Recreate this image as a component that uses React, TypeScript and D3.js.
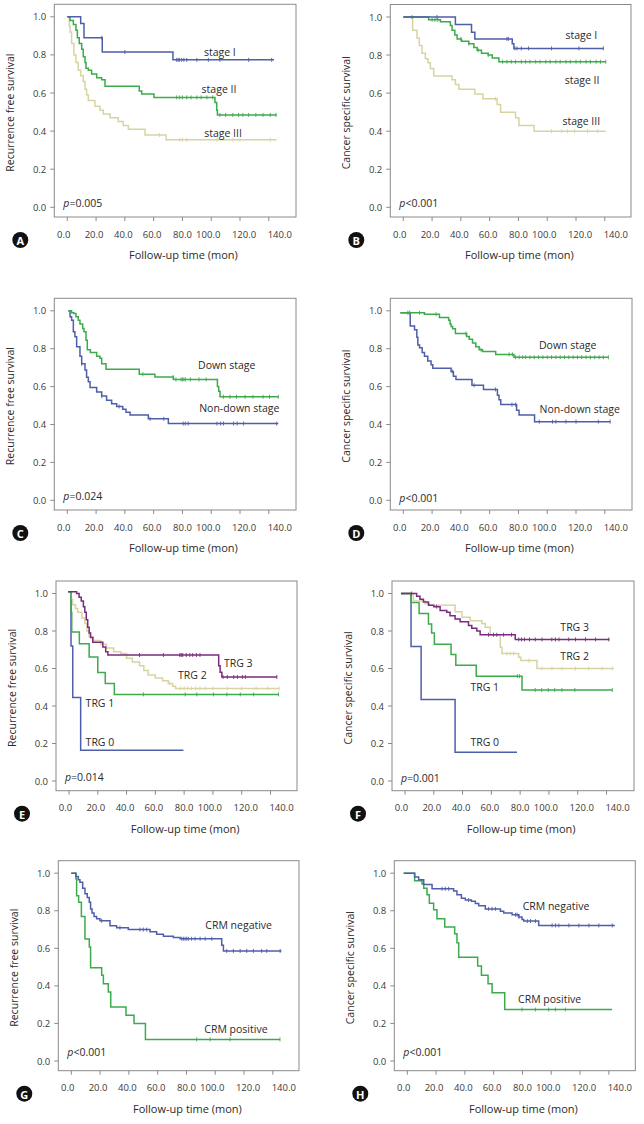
import React from "react";
import * as d3 from "d3";

type Pt = [number, number];

// ---------------- axis data ----------------
const xTickValues = [0, 20, 40, 60, 80, 100, 120, 140];
const xTickLabels = ["0.0", "20.0", "40.0", "60.0", "80.0", "100.0", "120.0", "140.0"];
const yTickValues = [0, 0.2, 0.4, 0.6, 0.8, 1.0];
const yTickLabels = ["0.0", "0.2", "0.4", "0.6", "0.8", "1.0"];
const xAxisTitle = "Follow-up time (mon)";
const rfsTitle = "Recurrence free survival";
const cssTitle = "Cancer specific survival";

// ---------------- Panel A ----------------
const A_stage1_steps: Pt[] = [[0, 1], [9.3, 0.965], [11.6, 0.89], [24.3, 0.815], [73.4, 0.774]];
const A_stage1_end = 143.6;
const A_stage1_censor = [24, 40, 76, 77, 78, 79.5, 81, 83, 90, 98, 106, 126, 142];
const A_stage2_steps: Pt[] = [[0, 1], [1.9, 0.98], [4.2, 0.96], [6, 0.93], [7, 0.89], [8.3, 0.86], [10, 0.83], [11.1, 0.79], [12.3, 0.76], [13, 0.73], [14.6, 0.72], [16.9, 0.7], [20.4, 0.68], [23.9, 0.67], [26.2, 0.635], [50, 0.61], [51.7, 0.595], [60.2, 0.577], [102.6, 0.55], [103.8, 0.51], [104.3, 0.485]];
const A_stage2_end = 145.5;
const A_stage2_censor = [76, 78, 80, 83, 86, 90, 93, 97, 101, 106, 110, 115, 119, 122, 126, 131, 136, 141, 145];
const A_stage3_steps: Pt[] = [[0, 1], [1.4, 0.95], [1.9, 0.92], [3, 0.86], [4.6, 0.8], [6, 0.76], [7.6, 0.72], [9.3, 0.69], [11.1, 0.66], [12.3, 0.62], [13.4, 0.59], [14.6, 0.56], [19.2, 0.53], [22.7, 0.51], [25, 0.49], [29.7, 0.47], [35.4, 0.45], [38.9, 0.43], [42.4, 0.41], [54, 0.38], [68.6, 0.355]];
const A_stage3_end = 145.5;
const A_stage3_censor = [64, 78, 80, 83, 104, 115, 120, 141];

// ---------------- Panel B ----------------
const B_stage1_steps: Pt[] = [[0, 1], [36.2, 0.96], [47.4, 0.92], [49.7, 0.885], [75.7, 0.86], [76.8, 0.835]];
const B_stage1_end = 139;
const B_stage1_censor = [23.4, 72, 73, 77.5, 79, 82, 87, 103, 122, 139];
const B_stage2_steps: Pt[] = [[0, 1], [17.6, 0.985], [25.8, 0.975], [32.7, 0.955], [33.9, 0.93], [35.8, 0.905], [37.4, 0.885], [40.4, 0.873], [45.5, 0.86], [49, 0.84], [51.3, 0.825], [54.3, 0.81], [59, 0.8], [61.8, 0.785], [66.4, 0.765]];
const B_stage2_end = 140.7;
const B_stage2_censor = [6, 20, 22, 24, 40, 45.5, 52, 59, 69, 72, 75, 78, 82, 85, 88, 92, 95, 99, 102, 106, 109, 113, 116, 120, 123, 127, 130, 134, 137, 140.7];
const B_stage3_steps: Pt[] = [[0, 1], [6.5, 0.93], [9.5, 0.89], [11.1, 0.85], [13, 0.81], [15.3, 0.78], [17.2, 0.76], [18.8, 0.73], [21.1, 0.69], [33.9, 0.67], [36.2, 0.645], [38.6, 0.62], [49.7, 0.595], [55.3, 0.57], [65.2, 0.54], [67.6, 0.5], [78, 0.47], [80.3, 0.43], [90.8, 0.4]];
const B_stage3_end = 140.7;
const B_stage3_censor = [64, 103, 110, 114, 119, 128, 135];

// ---------------- Panel C ----------------
const C_down_steps: Pt[] = [[0.7, 1], [3, 0.99], [4.6, 0.986], [6, 0.968], [7.6, 0.95], [8.8, 0.93], [10.7, 0.907], [11.6, 0.89], [13, 0.845], [13.9, 0.795], [16, 0.78], [20.4, 0.76], [22.7, 0.75], [23.9, 0.72], [26.9, 0.692], [50, 0.665], [60.9, 0.651], [73.7, 0.638], [104.3, 0.6], [105.2, 0.575], [106.1, 0.546]];
const C_down_end = 146.6;
const C_down_censor = [52.5, 73.5, 75.5, 79, 80, 81, 82, 85.5, 91.5, 96.5, 108.5, 113, 117.5, 123.5, 129, 136, 140.5, 146.6];
const C_non_steps: Pt[] = [[0.7, 1], [1.9, 0.968], [3, 0.95], [4.2, 0.89], [5.3, 0.863], [6.5, 0.81], [8.8, 0.76], [10, 0.72], [12.3, 0.687], [13.4, 0.65], [14.6, 0.625], [15.8, 0.595], [20.4, 0.572], [23.9, 0.55], [27.3, 0.528], [30.8, 0.51], [34.3, 0.495], [38.5, 0.48], [40.8, 0.465], [43.6, 0.45], [56.3, 0.43], [70.2, 0.405]];
const C_non_end = 146.6;
const C_non_censor = [10, 23.9, 36, 57.5, 67, 80.5, 82, 84, 104, 106.5, 108.5, 115.5, 118, 122.5, 145.5];

// ---------------- Panel D ----------------
const D_down_steps: Pt[] = [[-2, 0.99], [14.7, 0.982], [25.1, 0.965], [31.5, 0.95], [32.5, 0.93], [33.2, 0.917], [34.3, 0.905], [36.2, 0.88], [44, 0.865], [45.8, 0.85], [48.1, 0.83], [50.4, 0.81], [52.7, 0.795], [55, 0.785], [64.2, 0.77], [76.9, 0.755]];
const D_down_end = 142.5;
const D_down_censor = [4.4, 11.3, 22.8, 43.5, 54, 73.5, 75.8, 78, 80.5, 83, 85, 88, 91, 94, 97, 100, 103, 106, 109, 112, 115, 118, 121, 124, 127, 130, 133, 136, 139, 142.5];
const D_non_steps: Pt[] = [[-2, 0.99], [4.8, 0.92], [7.8, 0.9], [9.4, 0.86], [10.1, 0.82], [11.3, 0.805], [13.1, 0.78], [14.7, 0.76], [17, 0.735], [19.3, 0.715], [20.5, 0.697], [33.2, 0.68], [34.8, 0.655], [36.6, 0.637], [47.7, 0.607], [55.7, 0.585], [65.4, 0.555], [66.5, 0.53], [67.7, 0.505], [78.7, 0.475], [80.4, 0.45], [91.2, 0.415]];
const D_non_end = 143.7;
const D_non_censor = [3.2, 34, 49.2, 64, 75.5, 78, 94.5, 103.7, 106, 113, 120, 135.5, 143.7];

// ---------------- Panel E ----------------
const E_trg0_steps: Pt[] = [[-0.5, 1.01], [1.4, 0.72], [2.6, 0.445], [8.1, 0.164]];
const E_trg0_end = 79.5;
const E_trg0_censor: number[] = [];
const E_trg1_steps: Pt[] = [[-0.5, 1.01], [1.4, 0.9], [1.9, 0.795], [7.2, 0.732], [14, 0.661], [20, 0.579], [25.2, 0.52], [31.5, 0.462]];
const E_trg1_end = 145.6;
const E_trg1_censor = [51.7, 80.7, 88.8, 100.4, 109.7, 119, 128.3, 145.6];
const E_trg2_steps: Pt[] = [[-0.5, 1.01], [1.5, 0.97], [2.5, 0.94], [4.5, 0.92], [6, 0.9], [9, 0.87], [11, 0.84], [12.5, 0.8], [14, 0.77], [17, 0.75], [22, 0.73], [26, 0.71], [31, 0.69], [36, 0.68], [40, 0.655], [44, 0.635], [49, 0.615], [52, 0.59], [55, 0.565], [60, 0.55], [65, 0.535], [69, 0.52], [72, 0.505], [74, 0.494]];
const E_trg2_end = 146;
const E_trg2_censor = [70, 77.5, 80, 82.5, 85, 88, 91, 95, 100, 110, 120, 130, 138, 146];
const E_trg3_steps: Pt[] = [[-0.5, 1.01], [5.3, 1.0], [7, 0.98], [8.5, 0.96], [10, 0.93], [11, 0.9], [12, 0.86], [13, 0.82], [14, 0.79], [15, 0.765], [16.5, 0.74], [23.5, 0.715], [25.5, 0.69], [27, 0.672], [104, 0.615], [105, 0.58], [106.2, 0.555]];
const E_trg3_end = 144.4;
const E_trg3_censor = [49, 65.6, 77, 78, 79, 81.5, 84, 86, 88.5, 91, 107, 110, 114.5, 117, 120.5, 122.5, 144.4];

// ---------------- Panel F ----------------
const F_trg0_steps: Pt[] = [[-2.8, 1.0], [4.2, 0.718], [11.2, 0.435], [34.8, 0.153]];
const F_trg0_end = 77.8;
const F_trg0_censor: number[] = [];
const F_trg1_steps: Pt[] = [[-2.8, 1.0], [4.2, 0.952], [9.8, 0.894], [16.3, 0.838], [18.5, 0.79], [20.4, 0.73], [32, 0.675], [35.3, 0.617], [49.5, 0.559], [81.3, 0.485]];
const F_trg1_end = 144;
const F_trg1_censor = [78, 79.5, 90.5, 95, 99.5, 104, 109, 118, 144];
const F_trg2_steps: Pt[] = [[-2.8, 1.0], [5.8, 0.96], [13.9, 0.945], [17, 0.937], [34.8, 0.903], [39.5, 0.873], [45.3, 0.855], [53.4, 0.84], [55.7, 0.82], [59.2, 0.778], [66.2, 0.714], [67.4, 0.68], [78.9, 0.66], [80.5, 0.643], [91.7, 0.6]];
const F_trg2_end = 145;
const F_trg2_censor = [70.8, 73.1, 75.5, 86, 95.2, 102.1, 109, 118.4, 127.6, 136.9, 144];
const F_trg3_steps: Pt[] = [[-2.8, 1.0], [8.1, 0.985], [10.4, 0.97], [12.8, 0.955], [16.3, 0.938], [20, 0.93], [24.4, 0.91], [29, 0.9], [31.3, 0.882], [34.8, 0.864], [38.3, 0.85], [44.1, 0.83], [46.4, 0.815], [49.9, 0.8], [52.2, 0.78], [76.6, 0.755]];
const F_trg3_end = 142;
const F_trg3_censor = [4.6, 22, 58, 61.5, 63.8, 68.5, 74, 79, 81, 83, 86.5, 90.5, 95.2, 102, 104.5, 107, 113.8, 118.5, 125.4, 132.4, 141.6];

// ---------------- Panel G ----------------
const G_neg_steps: Pt[] = [[0, 1], [3.2, 0.982], [4.9, 0.965], [6, 0.952], [7.9, 0.92], [9.5, 0.89], [11.1, 0.87], [12.5, 0.845], [13.4, 0.81], [14.4, 0.788], [15.8, 0.77], [17.6, 0.757], [19.9, 0.747], [26.9, 0.72], [31.5, 0.71], [39.6, 0.7], [54.7, 0.688], [59.3, 0.675], [64, 0.664], [70.9, 0.657], [75.6, 0.651], [104.5, 0.616], [105.7, 0.586]];
const G_neg_end = 146;
const G_neg_censor = [21.1, 33.8, 47.7, 50, 52.4, 76.7, 77.9, 79, 80.2, 81.3, 83.6, 86, 89.5, 93, 97.6, 108, 112.6, 117.3, 121.9, 126.5, 132.3, 135.8, 145.1];
const G_pos_steps: Pt[] = [[0, 1], [3.2, 0.97], [3.7, 0.88], [5.1, 0.845], [7, 0.77], [9.5, 0.65], [12.5, 0.607], [13.4, 0.497], [21.1, 0.457], [22.3, 0.412], [25.7, 0.368], [27.4, 0.288], [38, 0.244], [43.6, 0.2], [51.5, 0.115]];
const G_pos_end = 145;
const G_pos_censor = [87.1, 96.4, 110.3, 145];

// ---------------- Panel H ----------------
const H_neg_steps: Pt[] = [[-2.5, 1.0], [5.1, 0.98], [7.9, 0.965], [11.4, 0.94], [17.2, 0.917], [32.2, 0.905], [34.5, 0.885], [37.6, 0.867], [40.3, 0.857], [44.5, 0.85], [47.3, 0.838], [49.6, 0.827], [54.2, 0.81], [64.7, 0.797], [67, 0.788], [72.8, 0.779], [77.5, 0.767], [79.7, 0.753], [80.9, 0.745], [91.3, 0.722]];
const H_neg_end = 144.2;
const H_neg_censor = [24.1, 26.4, 28.7, 42.6, 56.5, 58.9, 61.2, 75.2, 76.3, 77.5, 83.4, 85.6, 89.1, 100.6, 103, 105.3, 112.3, 119.2, 126.2, 133.1, 142.4];
const H_pos_steps: Pt[] = [[-2.5, 1.0], [5.1, 0.96], [10.2, 0.943], [11.4, 0.92], [13.7, 0.885], [15.3, 0.84], [18.3, 0.805], [20.6, 0.758], [26, 0.714], [32.9, 0.678], [34.5, 0.63], [35.7, 0.552], [48.9, 0.506], [51.5, 0.457], [56.1, 0.412], [58.9, 0.363], [67.7, 0.274]];
const H_pos_end = 142.3;
const H_pos_censor = [79.7, 89, 98.2, 102.9, 109.8];

// ---------------- styles / layout ----------------
const BLUE = "#4f5ea8";
const GREEN = "#3daa4c";
const TAN = "#d8d4a2";
const PURPLE = "#7a2b7d";
const FONT = "'Open Sans', 'Noto Sans', sans-serif";
const xLabelOffsets = [-3.5, -2, -1.5, -1.5, 0, -3, 4, 11];

type Curve = { steps: Pt[]; end: number; censor: number[]; color: string };
type Label = { text: string; t: number; s: number };
type PanelDef = {
  letter: string;
  left: number; top: number; right: number; bottom: number;
  yTitle: string; pText: string; pS: number;
  curves: Curve[];
  labels: Label[];
};

const panels: PanelDef[] = [
  {
    letter: "A", left: 54.3, top: 4.3, right: 296, bottom: 217, yTitle: rfsTitle, pText: "=0.005", pS: 0.021,
    curves: [
      { steps: A_stage3_steps, end: A_stage3_end, censor: A_stage3_censor, color: TAN },
      { steps: A_stage2_steps, end: A_stage2_end, censor: A_stage2_censor, color: GREEN },
      { steps: A_stage1_steps, end: A_stage1_end, censor: A_stage1_censor, color: BLUE },
    ],
    labels: [{ text: "stage I", t: 106, s: 0.816 }, { text: "stage II", t: 105.4, s: 0.62 }, { text: "stage III", t: 108.2, s: 0.39 }],
  },
  {
    letter: "B", left: 390.3, top: 4.5, right: 631, bottom: 217, yTitle: cssTitle, pText: "<0.001", pS: 0.021,
    curves: [
      { steps: B_stage3_steps, end: B_stage3_end, censor: B_stage3_censor, color: TAN },
      { steps: B_stage2_steps, end: B_stage2_end, censor: B_stage2_censor, color: GREEN },
      { steps: B_stage1_steps, end: B_stage1_end, censor: B_stage1_censor, color: BLUE },
    ],
    labels: [{ text: "stage I", t: 123.7, s: 0.908 }, { text: "stage II", t: 124.2, s: 0.668 }, { text: "stage III", t: 123.7, s: 0.455 }],
  },
  {
    letter: "C", left: 54.3, top: 298.3, right: 296, bottom: 510, yTitle: rfsTitle, pText: "=0.024", pS: 0.023,
    curves: [
      { steps: C_non_steps, end: C_non_end, censor: C_non_censor, color: BLUE },
      { steps: C_down_steps, end: C_down_end, censor: C_down_censor, color: GREEN },
    ],
    labels: [{ text: "Down stage", t: 110.8, s: 0.713 }, { text: "Non-down stage", t: 119.5, s: 0.485 }],
  },
  {
    letter: "D", left: 390.3, top: 298.3, right: 632, bottom: 510, yTitle: cssTitle, pText: "<0.001", pS: 0.012,
    curves: [
      { steps: D_non_steps, end: D_non_end, censor: D_non_censor, color: BLUE },
      { steps: D_down_steps, end: D_down_end, censor: D_down_censor, color: GREEN },
    ],
    labels: [{ text: "Down stage", t: 114.2, s: 0.818 }, { text: "Non-down stage", t: 122.6, s: 0.48 }],
  },
  {
    letter: "E", left: 56, top: 581, right: 297, bottom: 790.7, yTitle: rfsTitle, pText: "=0.014", pS: 0.023,
    curves: [
      { steps: E_trg0_steps, end: E_trg0_end, censor: E_trg0_censor, color: BLUE },
      { steps: E_trg2_steps, end: E_trg2_end, censor: E_trg2_censor, color: TAN },
      { steps: E_trg1_steps, end: E_trg1_end, censor: E_trg1_censor, color: GREEN },
      { steps: E_trg3_steps, end: E_trg3_end, censor: E_trg3_censor, color: PURPLE },
    ],
    labels: [
      { text: "TRG 3", t: 117.6, s: 0.628 }, { text: "TRG 2", t: 85.7, s: 0.565 },
      { text: "TRG 1", t: 21.5, s: 0.414 }, { text: "TRG 0", t: 21.5, s: 0.21 },
    ],
  },
  {
    letter: "F", left: 392, top: 581, right: 634, bottom: 790.7, yTitle: cssTitle, pText: "=0.001", pS: 0.014,
    curves: [
      { steps: F_trg0_steps, end: F_trg0_end, censor: F_trg0_censor, color: BLUE },
      { steps: F_trg1_steps, end: F_trg1_end, censor: F_trg1_censor, color: GREEN },
      { steps: F_trg2_steps, end: F_trg2_end, censor: F_trg2_censor, color: TAN },
      { steps: F_trg3_steps, end: F_trg3_end, censor: F_trg3_censor, color: PURPLE },
    ],
    labels: [
      { text: "TRG 3", t: 117.9, s: 0.82 }, { text: "TRG 2", t: 117.9, s: 0.668 },
      { text: "TRG 1", t: 55.4, s: 0.503 }, { text: "TRG 0", t: 55.4, s: 0.21 },
    ],
  },
  {
    letter: "G", left: 58.3, top: 860.7, right: 299, bottom: 1070.7, yTitle: rfsTitle, pText: "<0.001", pS: 0.05,
    curves: [
      { steps: G_pos_steps, end: G_pos_end, censor: G_pos_censor, color: GREEN },
      { steps: G_neg_steps, end: G_neg_end, censor: G_neg_censor, color: BLUE },
    ],
    labels: [{ text: "CRM negative", t: 116.3, s: 0.724 }, { text: "CRM positive", t: 114.4, s: 0.169 }],
  },
  {
    letter: "H", left: 394.3, top: 860.7, right: 635.3, bottom: 1070.7, yTitle: cssTitle, pText: "<0.001", pS: 0.05,
    curves: [
      { steps: H_pos_steps, end: H_pos_end, censor: H_pos_censor, color: GREEN },
      { steps: H_neg_steps, end: H_neg_end, censor: H_neg_censor, color: BLUE },
    ],
    labels: [{ text: "CRM negative", t: 103.3, s: 0.825 }, { text: "CRM positive", t: 98.9, s: 0.33 }],
  },
];

function survivalAt(steps: Pt[], t: number): number {
  let v = steps[0][1];
  for (const [st, sv] of steps) {
    if (st <= t) v = sv;
    else break;
  }
  return v;
}

function Panel({ p }: { p: PanelDef }) {
  const x = d3.scaleLinear().domain([0, 140]).range([p.left + 13, p.left + 214.5]);
  const y = d3.scaleLinear().domain([0, 1]).range([p.bottom - 9.7, p.top + 12.5]);
  const line = d3
    .line<Pt>()
    .x((d) => x(d[0]))
    .y((d) => y(d[1]))
    .curve(d3.curveStepAfter);
  const midY = (p.top + p.bottom) / 2 + 2;
  return (
    <g>
      <rect x={p.left} y={p.top} width={p.right - p.left} height={p.bottom - p.top} fill="#fff" stroke="#8a8a8a" strokeWidth={1} />
      {yTickValues.map((v, i) => (
        <g key={"y" + i}>
          <line x1={p.left - 4} x2={p.left} y1={y(v)} y2={y(v)} stroke="#8a8a8a" />
          <text x={p.left - 8} y={y(v)} textAnchor="end" dominantBaseline="central" fontSize={9.5} fill="#3a3a3a" fontFamily={FONT}>
            {yTickLabels[i]}
          </text>
        </g>
      ))}
      {xTickValues.map((v, i) => (
        <g key={"x" + i}>
          <line x1={x(v)} x2={x(v)} y1={p.bottom} y2={p.bottom + 4} stroke="#8a8a8a" />
          <text x={x(v) + xLabelOffsets[i]} y={p.bottom + 17} textAnchor="middle" dominantBaseline="central" fontSize={9.5} fill="#3a3a3a" fontFamily={FONT}>
            {xTickLabels[i]}
          </text>
        </g>
      ))}
      <text x={x(80) + 1} y={p.bottom + 37.5} textAnchor="middle" dominantBaseline="central" fontSize={11} fill="#2a2a2a" fontFamily={FONT}>
        {xAxisTitle}
      </text>
      <text
        transform={`translate(${p.left - 44},${midY}) rotate(-90)`}
        textAnchor="middle"
        dominantBaseline="central"
        fontSize={10.5}
        fill="#2a2a2a"
        fontFamily={FONT}
      >
        {p.yTitle}
      </text>
      {p.curves.map((c, ci) => {
        const last = c.steps[c.steps.length - 1][1];
        const pts: Pt[] = [...c.steps, [c.end, last]];
        return (
          <g key={"c" + ci}>
            <path d={line(pts) || ""} fill="none" stroke={c.color} strokeWidth={1.5} />
            {c.censor.map((t, k) => {
              const sv = survivalAt(c.steps, t);
              return <line key={k} x1={x(t)} x2={x(t)} y1={y(sv) - 2} y2={y(sv) + 2} stroke={c.color} strokeWidth={0.9} />;
            })}
          </g>
        );
      })}
      {p.labels.map((l, li) => (
        <text key={"l" + li} x={x(l.t)} y={y(l.s)} textAnchor="middle" dominantBaseline="central" fontSize={10.5} fill="#2a2a2a" fontFamily={FONT}>
          {l.text}
        </text>
      ))}
      <text x={p.left + 9} y={y(p.pS)} dominantBaseline="central" fontSize={10.5} fill="#2a2a2a" fontFamily={FONT}>
        <tspan fontStyle="italic">p</tspan>
        {p.pText}
      </text>
      <circle cx={p.left - 34} cy={p.bottom + 23} r={8} fill="#111" />
      <text x={p.left - 34} y={p.bottom + 23.5} textAnchor="middle" dominantBaseline="central" fontSize={11} fontWeight="bold" fill="#fff" fontFamily={FONT}>
        {p.letter}
      </text>
    </g>
  );
}

export default function App() {
  return (
    <svg width={644} height={1124} style={{ position: "absolute", left: 0, top: 0, background: "#fff" }}>
      <rect x={0} y={0} width={644} height={1124} fill="#fff" />
      {panels.map((p) => (
        <Panel key={p.letter} p={p} />
      ))}
    </svg>
  );
}
